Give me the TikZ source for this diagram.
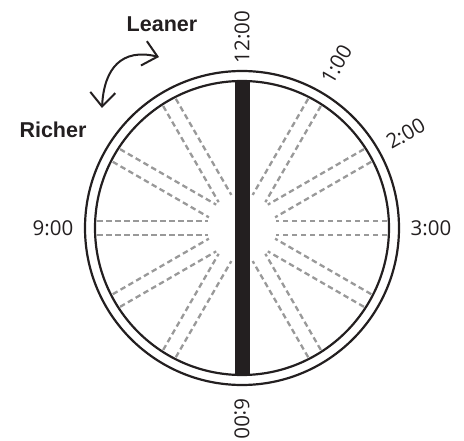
\documentclass[tikz,border=0pt]{standalone}
\usepackage{fontspec}
\setmainfont{Open Sans}
\newfontfamily\labelfont{Liberation Sans}
\usepackage{tikz}
\usetikzlibrary{positioning}
\usetikzlibrary{calc}
\usetikzlibrary{arrows.meta}
\definecolor{inkblack}{HTML}{231F20}
\definecolor{spokegray}{HTML}{999999}

\begin{document}
\begin{tikzpicture}[
                x=1pt, y=1pt,
                every node/.style={inner sep=0pt},
                hour/.style={font=\fontsize{20.5}{20.5}\selectfont, text=inkblack},
                side/.style={font=\labelfont\bfseries\fontsize{21.5}{21.5}\selectfont, text=inkblack},
                rim/.style={draw=inkblack, line width=2.2pt},
                spoke/.style={draw=spokegray, line width=2.3pt, dash pattern=on 5.5pt off 3.5pt},
                bar/.style={rectangle, fill=inkblack, minimum width=15pt, minimum height=294pt},
                barb/.style={{Straight Barb[length=14pt, width=25pt, line width=2pt]}-{Straight Barb[length=14pt, width=25pt, line width=2pt]}}
            ]
            \useasboundingbox (0,0) rectangle (464,440);
            \coordinate (c) at (242,212);
            % Dial
            \draw[rim] (c) circle (157);
            \draw[rim] (c) circle (147);
            \foreach \h [evaluate=\h as \a using 90-30*\h] in {1,2,3,4,5,7,8,9,10,11} {
                \draw[spoke] ($(c)+(\a:145)+(\a+90:7.3)$) -- ($(c)+(\a:34)+(\a+90:7.3)$);
                \draw[spoke] ($(c)+(\a:145)+(\a-90:7.3)$) -- ($(c)+(\a:34)+(\a-90:7.3)$);
            }
            \node[bar] (stick) at (c) {};
            % Nodes
            \node[hour, rotate=90] (h12) at ($(c)+(90:191)$) {12:00};
            \node[hour, rotate=60] (h1) at ($(c)+(60:189)$) {1:00};
            \node[hour, rotate=30] (h2) at ($(c)+(30:189)$) {2:00};
            \node[hour] (h3) at ($(c)+(0:189)$) {3:00};
            \node[hour, rotate=-90] (h6) at ($(c)+(-90:191)$) {6:00};
            \node[hour] (h9) at ($(c)+(180:189)$) {9:00};
            \node[side] (lean) at (162,416) {Leaner};
            \node[side] (rich) at (53,310) {Richer};
            % Arrows
            \coordinate (richtip) at (102,332);
            \coordinate (leantip) at (159,383);
            \draw[barb, draw=inkblack, line width=2pt] (richtip) .. controls (104,372) and (122,392) .. (leantip);
            \end{tikzpicture}
\end{document}
